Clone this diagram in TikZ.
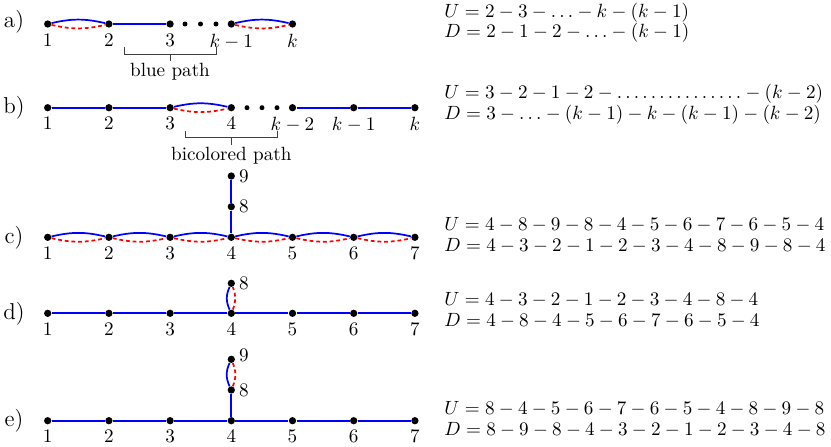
\documentclass[tikz,border=0pt]{standalone}
\usetikzlibrary{positioning}
\begin{document}
\begin{tikzpicture}[x=0.5225pt,y=-0.5225pt,
  vtx/.style={circle,fill=black,inner sep=0pt,minimum size=3.8pt},
  sdot/.style={circle,fill=black,inner sep=0pt,minimum size=2.6pt},
  bl/.style={blue,line width=0.9pt},
  rd/.style={red,line width=0.9pt,dash pattern=on 2pt off 1.5pt},
  brk/.style={black!75,line width=0.45pt},
  rowlab/.style={font=\large},
  eq/.style={anchor=base west,inner sep=0pt},
  every label/.style={inner sep=2.8pt}]
\useasboundingbox (0,0) rectangle (831,446);

% ---------------- a) ----------------
\node[rowlab] (la) at (14,22) {a)};
\node[vtx,label=below:$1$] (a1) at (47.7,24) {};
\node[vtx,label=below:$2$] (a2) at (108.9,24) {};
\node[vtx,label=below:$3$] (a3) at (170.1,24) {};
\node[vtx,label=below:$k-1$] (a4) at (231.3,24) {};
\node[vtx,label=below:$k$] (a5) at (292.5,24) {};
\node[sdot] (ad1) at (185,24) {};
\node[sdot] (ad2) at (200.5,24) {};
\node[sdot] (ad3) at (216,24) {};
\draw[bl] (a1) to[bend left=13] (a2);
\draw[rd] (a1) to[bend right=13] (a2);
\draw[bl] (a2) -- (a3);
\draw[bl] (a4) to[bend left=13] (a5);
\draw[rd] (a4) to[bend right=13] (a5);
\draw[brk] (124,47) -- (124,54) -- (216,54) -- (216,47);
\node (bp) at (170,71.5) {blue path};
\coordinate (bpt) at (170,54);
\draw[brk] (bpt) -- (170,61);

% ---------------- b) ----------------
\node[rowlab] (lb) at (14,107.7) {b)};
\node[vtx,label=below:$1$] (b1) at (47.7,107.7) {};
\node[vtx,label=below:$2$] (b2) at (108.9,107.7) {};
\node[vtx,label=below:$3$] (b3) at (170.1,107.7) {};
\node[vtx,label=below:$4$] (b4) at (231.3,107.7) {};
\node[vtx,label=below:$k-2$] (b5) at (292.5,107.7) {};
\node[vtx,label=below:$k-1$] (b6) at (353.7,107.7) {};
\node[vtx,label=below:$k$] (b7) at (414.9,107.7) {};
\node[sdot] (bd1) at (247,107.7) {};
\node[sdot] (bd2) at (262,107.7) {};
\node[sdot] (bd3) at (277,107.7) {};
\draw[bl] (b1) -- (b2) -- (b3);
\draw[bl] (b3) to[bend left=13] (b4);
\draw[rd] (b3) to[bend right=13] (b4);
\draw[bl] (b5) -- (b6) -- (b7);
\draw[brk] (185,131) -- (185,137.5) -- (277,137.5) -- (277,131);
\node (bcp) at (231.3,155.5) {bicolored path};
\coordinate (bct) at (231.3,137.5);
\draw[brk] (bct) -- (231.3,145);

% ---------------- c) ----------------
\node[rowlab] (lc) at (14,238) {c)};
\foreach \i/\x in {1/47.7,2/108.9,3/170.1,4/231.3,5/292.5,6/353.7,7/414.9}
  \node[vtx,label=below:$\i$] (c\i) at (\x,237.3) {};
\node[vtx,label={[label distance=-1pt]right:$8$}] (c8) at (231.3,206.7) {};
\node[vtx,label={[label distance=-1pt]right:$9$}] (c9) at (231.3,176) {};
\foreach \a/\b in {1/2,2/3,3/4,4/5,5/6,6/7}{
  \draw[bl] (c\a) to[bend left=13] (c\b);
  \draw[rd] (c\a) to[bend right=13] (c\b);
}
\draw[bl] (c4) -- (c8) -- (c9);

% ---------------- d) ----------------
\node[rowlab] (ld) at (14,313.3) {d)};
\foreach \i/\x in {1/47.7,2/108.9,3/170.1,4/231.3,5/292.5,6/353.7,7/414.9}
  \node[vtx,label=below:$\i$] (d\i) at (\x,313.3) {};
\node[vtx,label={[label distance=-1pt]right:$8$}] (d8) at (231.3,283.3) {};
\draw[bl] (d1) -- (d2) -- (d3) -- (d4) -- (d5) -- (d6) -- (d7);
\draw[bl] (d4) to[bend left=25] (d8);
\draw[rd] (d4) to[bend right=22] (d8);

% ---------------- e) ----------------
\node[rowlab] (le) at (14,420.7) {e)};
\foreach \i/\x in {1/47.7,2/108.9,3/170.1,4/231.3,5/292.5,6/353.7,7/414.9}
  \node[vtx,label=below:$\i$] (e\i) at (\x,420.7) {};
\node[vtx,label={[label distance=-1pt]right:$8$}] (e8) at (231.3,390) {};
\node[vtx,label={[label distance=-1pt,yshift=2pt]right:$9$}] (e9) at (231.3,359.3) {};
\draw[bl] (e1) -- (e2) -- (e3) -- (e4) -- (e5) -- (e6) -- (e7);
\draw[bl] (e4) -- (e8);
\draw[bl] (e8) to[bend left=25] (e9);
\draw[rd] (e8) to[bend right=22] (e9);

% ---------------- equations ----------------
\node[eq] (ua) at (444,17) {$U=2-3-\ldots-k-(k-1)$};
\node[eq] (da) at (444,37.5) {$D=2-1-2-\ldots-(k-1)$};
\node[eq] (ub) at (444,98.3) {$U=3-2-1-2-\ldots\ldots\ldots\ldots\ldots-(k-2)$};
\node[eq] (db) at (444,119.3) {$D=3-\ldots-(k-1)-k-(k-1)-(k-2)$};
\node[eq] (uc) at (444,230.7) {$U=4-8-9-8-4-5-6-7-6-5-4$};
\node[eq] (dc) at (444,251.7) {$D=4-3-2-1-2-3-4-8-9-8-4$};
\node[eq] (ud) at (444,305.7) {$U=4-3-2-1-2-3-4-8-4$};
\node[eq] (dd) at (444,326.7) {$D=4-8-4-5-6-7-6-5-4$};
\node[eq] (ue) at (444,414.7) {$U=8-4-5-6-7-6-5-4-8-9-8$};
\node[eq] (de) at (444,435.3) {$D=8-9-8-4-3-2-1-2-3-4-8$};
\end{tikzpicture}
\end{document}
